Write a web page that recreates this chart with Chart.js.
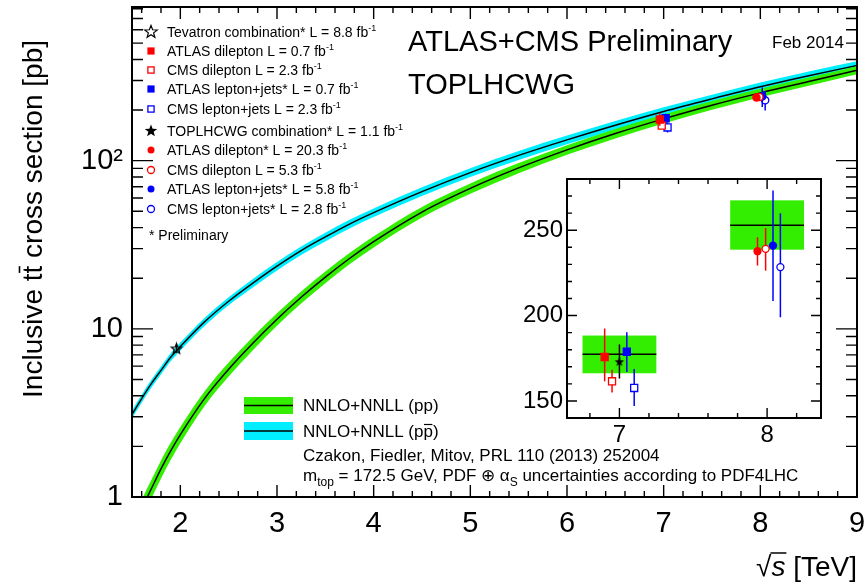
<!DOCTYPE html>
<html><head><meta charset="utf-8">
<script src="https://cdn.jsdelivr.net/npm/chart.js@4.4.1/dist/chart.umd.min.js"></script>
<style>
html,body{margin:0;padding:0;background:#fff;}
#wrap{position:relative;width:865px;height:585px;}
canvas{position:absolute;left:0;top:0;}
</style></head><body>
<div id="wrap"><canvas id="main" width="865" height="585"></canvas><canvas id="inset" width="865" height="585"></canvas></div>
<script>
// ---------------- DATA ----------------
const energies = [1.5,1.6,1.7,1.8,1.9,2.0,2.25,2.5,2.75,3.0,3.25,3.5,3.75,4.0,4.5,5.0,5.5,6.0,6.5,7.0,7.5,8.0,8.5,9.0];
const ppCentral = [0.62,0.85,1.12,1.47,1.88,2.35,3.85,5.75,8.2,11.4,15.4,20.3,26.2,33.0,49.5,68.4,90.5,116.0,145.1,177.3,213.6,252.9,295.5,345];
const ppLow     = [0.54,0.74,0.98,1.29,1.66,2.09,3.47,5.20,7.46,10.43,14.14,18.68,24.18,30.5,45.9,63.6,84.3,108.3,135.7,166.2,200.8,238.6,279,326];
const ppHigh    = [0.70,0.96,1.26,1.65,2.10,2.61,4.24,6.30,8.94,12.37,16.66,21.92,28.22,35.5,53.1,73.2,96.7,123.7,154.5,188.3,226.4,267.5,312,364];
const ppbarCentral = [3.10,3.85,4.72,5.66,6.78,7.85,11.0,14.6,18.7,23.6,29.2,35.2,42.0,49.1,65.5,85.0,107.5,133,162.4,196,233,275,320,368];
const ppbarLow     = [2.93,3.64,4.46,5.35,6.41,7.42,10.4,13.8,17.6,22.2,27.5,33.1,39.5,46.2,61.6,79.9,101.0,125,152.7,184.2,219,258.5,301,346];
const ppbarHigh    = [3.27,4.06,4.98,5.97,7.15,8.28,11.6,15.4,19.8,25.0,30.9,37.3,44.5,52.0,69.4,90.1,114.0,141,172.1,207.8,247,291.5,339,390];

const measLabels = ['Tevatron combination*','ATLAS dilepton','CMS dilepton','ATLAS lepton+jets*','CMS lepton+jets','TOPLHCWG combination*','ATLAS dilepton*','CMS dilepton','ATLAS lepton+jets*','CMS lepton+jets*'];
const measLumi   = ['8.8','0.7','2.3','0.7','2.3','1.1','20.3','5.3','5.8','2.8'];
const measSqrtS  = [1.96,7,7,7,7,7,8,8,8,8];
const measXsec   = [7.60,175.7,161.5,178.8,157.6,172.8,237.7,239.1,241.0,228.4];
const measLow    = [7.19,161.5,155.0,167.0,147.1,163.1,229.3,226.3,208.5,199.0];
const measHigh   = [8.01,192.4,168.3,190.3,168.7,183.1,245.9,251.3,273.2,259.9];

const theorySqrtS = [7,8];
const theoryXsec  = [177.3,252.9];
const theoryLow   = [166.2,238.6];
const theoryHigh  = [188.3,267.5];

const xTickValues = [2,3,4,5,6,7,8,9];
const yTickValues = [1,10,100];
const yTickLabels = ['1','10','10\u00B2'];
const insetXTickValues = [7,8];
const insetYTickValues = [150,200,250];

// ---------------- STYLE ----------------
const RED = '#ff0000', BLUE = '#0000ff', BLACK = '#000000';
const GREEN = '#33ee00', CYAN = '#00eeff';
const FONT = "'Liberation Sans', Arial, Helvetica, sans-serif";
const markerStyle = [
  {shape:'star', fill:false, color:BLACK},
  {shape:'rect', fill:true, color:RED},
  {shape:'rect', fill:false, color:RED},
  {shape:'rect', fill:true, color:BLUE},
  {shape:'rect', fill:false, color:BLUE},
  {shape:'star', fill:true, color:BLACK},
  {shape:'circle', fill:true, color:RED},
  {shape:'circle', fill:false, color:RED},
  {shape:'circle', fill:true, color:BLUE},
  {shape:'circle', fill:false, color:BLUE}
];
const mainDx  = [0,-0.04,-0.02,0.02,0.04,0,-0.04,-0.01,0.02,0.05];
const insetDx = [0,-0.10,-0.05,0.05,0.10,0,-0.065,-0.01,0.04,0.09];
const legendRowY = [32,51,70,89,109,131,150,170,189,209];

function setFont(ctx,size,italic){ ctx.font=(italic?'italic ':'')+size+'px '+FONT; }
function starPath(g,cx,cy,r){
  const ri=r*0.42; g.beginPath();
  for(let k=0;k<10;k++){const rr=k%2?ri:r; const a=-Math.PI/2+k*Math.PI/5; const px=cx+rr*Math.cos(a), py=cy+rr*Math.sin(a); if(k)g.lineTo(px,py); else g.moveTo(px,py);}
  g.closePath();
}
function starCanvas(r,filled,color){
  const c=document.createElement('canvas'); const s=Math.ceil(2*r+4); c.width=s;c.height=s;
  const g=c.getContext('2d'); starPath(g,s/2,s/2,r);
  if(filled){g.fillStyle=color;g.fill();} else {g.strokeStyle=color;g.lineWidth=1.2;g.stroke();}
  return c;
}
function drawMarker(ctx,st,x,y,size){
  ctx.save();
  if(st.shape==='star'){ starPath(ctx,x,y,size*1.2); if(st.fill){ctx.fillStyle=st.color;ctx.fill();} else {ctx.strokeStyle=st.color;ctx.lineWidth=1.2;ctx.stroke();} }
  else if(st.shape==='rect'){ const h=size*0.72; if(st.fill){ctx.fillStyle=st.color;ctx.fillRect(x-h,y-h,2*h,2*h);} else {ctx.strokeStyle=st.color;ctx.lineWidth=1.3;ctx.strokeRect(x-h+0.5,y-h+0.5,2*h-1,2*h-1);} }
  else { ctx.beginPath(); ctx.arc(x,y,size*0.7,0,2*Math.PI); if(st.fill){ctx.fillStyle=st.color;ctx.fill();} else {ctx.strokeStyle=st.color;ctx.lineWidth=1.3;ctx.stroke();} }
  ctx.restore();
}
function pointDataset(i,dx,starR,rectR,circR){
  const st=markerStyle[i];
  const ds={label:measLabels[i], data:[{x:measSqrtS[i]+dx[i], y:measXsec[i]}], showLine:false, order:0,
    errLo:[measLow[i]], errHi:[measHigh[i]], errColor:st.color,
    borderColor:st.color, backgroundColor: st.fill?st.color:'#ffffff', pointBorderWidth:1.3};
  if(st.shape==='star'){ ds.pointStyle=starCanvas(starR,st.fill,st.color); ds.pointRadius=starR; }
  else if(st.shape==='rect'){ ds.pointStyle='rect'; ds.pointRadius=rectR; }
  else { ds.pointStyle='circle'; ds.pointRadius=circR; }
  return ds;
}
const errorBarPlugin = {
  id:'errbars',
  beforeDatasetDraw(chart,args){
    const ds=chart.data.datasets[args.index]; if(!ds.errLo) return;
    const ctx=chart.ctx, y=chart.scales.y;
    ctx.save(); ctx.strokeStyle=ds.errColor; ctx.lineWidth=1.5; ctx.beginPath();
    args.meta.data.forEach((el,j)=>{ ctx.moveTo(el.x,y.getPixelForValue(ds.errLo[j])); ctx.lineTo(el.x,y.getPixelForValue(ds.errHi[j])); });
    ctx.stroke(); ctx.restore();
  }
};
function rich(ctx,x,y,parts,base){
  let cx=x;
  for(const p of parts){ setFont(ctx,p.size||base,p.italic); ctx.fillText(p.t,cx,y+(p.dy||0)); cx+=ctx.measureText(p.t).width; }
  return cx;
}

// ---------------- MAIN CHART ----------------
const pts=(ys)=>energies.map((e,i)=>({x:e,y:ys[i]}));
const mainDatasets=[
  {label:'ppbar hi',data:pts(ppbarHigh),borderWidth:0,pointRadius:0,fill:'+1',backgroundColor:CYAN,order:6,cubicInterpolationMode:'monotone'},
  {label:'ppbar lo',data:pts(ppbarLow),borderWidth:0,pointRadius:0,fill:false,order:6,cubicInterpolationMode:'monotone'},
  {label:'pp hi',data:pts(ppHigh),borderWidth:0,pointRadius:0,fill:'+1',backgroundColor:GREEN,order:4,cubicInterpolationMode:'monotone'},
  {label:'pp lo',data:pts(ppLow),borderWidth:0,pointRadius:0,fill:false,order:4,cubicInterpolationMode:'monotone'},
  {label:'ppbar',data:pts(ppbarCentral),borderColor:BLACK,borderWidth:1.4,pointRadius:0,fill:false,order:5,cubicInterpolationMode:'monotone'},
  {label:'pp',data:pts(ppCentral),borderColor:BLACK,borderWidth:1.4,pointRadius:0,fill:false,order:3,cubicInterpolationMode:'monotone'}
];
for(let i=0;i<measLabels.length;i++) mainDatasets.push(pointDataset(i,mainDx,5.5,5,3.6));

const mainFramePlugin={
  id:'mainframe',
  afterDatasetsDraw(chart){
    const {ctx,chartArea:a,scales:{x,y}}=chart;
    ctx.save(); ctx.strokeStyle='#000'; ctx.lineWidth=1.4; ctx.beginPath();
    for(let k=1;k<=37;k++){ const v=1.5+0.2*k-0.1; if(v>9.001)break; const px=x.getPixelForValue(v);
      const major=Math.abs(v-Math.round(v))<1e-6; const L=major?12:6;
      ctx.moveTo(px,a.bottom); ctx.lineTo(px,a.bottom-L); ctx.moveTo(px,a.top); ctx.lineTo(px,a.top+L); }
    for(const d of [1,10,100]) for(let m=1;m<=9;m++){ const v=m*d; if(v>y.max)break; const py=y.getPixelForValue(v); const L=m===1?21:11;
      ctx.moveTo(a.left,py); ctx.lineTo(a.left+L,py); ctx.moveTo(a.right,py); ctx.lineTo(a.right-L,py); }
    ctx.stroke();
    ctx.lineWidth=2; ctx.strokeRect(a.left,a.top,a.right-a.left,a.bottom-a.top);
    ctx.restore();
  },
  afterDraw(chart){
    const ctx=chart.ctx; ctx.save(); ctx.fillStyle='#000'; ctx.textBaseline='alphabetic'; ctx.textAlign='left';
    // y title
    ctx.save(); ctx.translate(42,40); ctx.rotate(-Math.PI/2); setFont(ctx,28);
    const t1='Inclusive t',t2='t',t3=' cross section [pb]';
    const w1=ctx.measureText(t1).width,w2=ctx.measureText(t2).width,w3=ctx.measureText(t3).width;
    const sx=-(w1+w2+w3);
    ctx.fillText(t1,sx,0); ctx.fillText(t2,sx+w1,0); ctx.fillText(t3,sx+w1+w2,0);
    ctx.lineWidth=1.6; ctx.beginPath(); ctx.moveTo(sx+w1+0.5,-22.5); ctx.lineTo(sx+w1+w2-0.5,-22.5); ctx.stroke();
    ctx.restore();
    // x title
    setFont(ctx,28); const wT=ctx.measureText('[TeV]').width, wSp=ctx.measureText(' ').width;
    ctx.fillText('[TeV]',857-wT,576);
    setFont(ctx,28,true); const wS=ctx.measureText('s').width; const xs=857-wT-wSp-wS; ctx.fillText('s',xs,576);
    setFont(ctx,28); const wR=ctx.measureText('\u221A').width; ctx.fillText('\u221A',xs-wR,576);
    ctx.lineWidth=1.5; ctx.beginPath(); ctx.moveTo(xs-1,576-23); ctx.lineTo(xs+wS+1,576-23); ctx.stroke();
    // headline texts
    setFont(ctx,29); ctx.fillText('ATLAS+CMS Preliminary',408,51); ctx.fillText('TOPLHCWG',408,94);
    setFont(ctx,17); ctx.fillText('Feb 2014',772,48);
    // legend top-left
    for(let i=0;i<measLabels.length;i++){
      const yc=legendRowY[i];
      drawMarker(ctx,markerStyle[i],151,yc,markerStyle[i].shape==='star'?5.5:5);
      ctx.fillStyle='#000';
      rich(ctx,167,yc+5,[{t:measLabels[i]+' L = '+measLumi[i]+' fb'},{t:'-1',size:9,dy:-6}],14);
    }
    setFont(ctx,14); ctx.fillText('* Preliminary',149,240);
    // bottom legend
    ctx.fillStyle=GREEN; ctx.fillRect(244,397,49,17);
    ctx.fillStyle=CYAN; ctx.fillRect(244,422,49,18);
    ctx.strokeStyle='#000'; ctx.lineWidth=1.4; ctx.beginPath(); ctx.moveTo(244,405.5); ctx.lineTo(293,405.5); ctx.moveTo(244,431); ctx.lineTo(293,431); ctx.stroke();
    ctx.fillStyle='#000'; setFont(ctx,17);
    ctx.fillText('NNLO+NNLL (pp)',303,411);
    const a1='NNLO+NNLL (p'; const wa=ctx.measureText(a1).width, wp=ctx.measureText('p').width;
    ctx.fillText(a1,303,437); ctx.fillText('p',303+wa,437); ctx.fillText(')',303+wa+wp,437);
    ctx.lineWidth=1.2; ctx.beginPath(); ctx.moveTo(303+wa+0.5,424.5); ctx.lineTo(303+wa+wp-0.5,424.5); ctx.stroke();
    ctx.fillText('Czakon, Fiedler, Mitov, PRL 110 (2013) 252004',303,461);
    rich(ctx,303,481,[{t:'m'},{t:'top',size:12,dy:5},{t:' = 172.5 GeV, PDF '},{t:'\u2295'},{t:' \u03B1'},{t:'S',size:12,dy:5},{t:' uncertainties according to PDF4LHC'}],17);
    ctx.restore();
  }
};

new Chart(document.getElementById('main'),{
  type:'line',
  data:{datasets:mainDatasets},
  options:{
    responsive:false, animation:false, devicePixelRatio:1,
    layout:{padding:{top:7,right:8,left:0,bottom:0}},
    plugins:{legend:{display:false},tooltip:{enabled:false},filler:{propagate:false}},
    scales:{
      x:{type:'linear',min:1.5,max:9,grid:{display:false,drawTicks:false},border:{display:false},
        afterBuildTicks:s=>{s.ticks=xTickValues.map(v=>({value:v}));},
        afterFit:s=>{s.height=88;s.paddingLeft=0;s.paddingRight=0;},
        ticks:{font:{family:FONT,size:29},color:'#000',padding:10,maxRotation:0,autoSkip:false,callback:v=>String(v)}},
      y:{type:'logarithmic',min:1,max:820,grid:{display:false,drawTicks:false},border:{display:false},
        afterBuildTicks:s=>{s.ticks=yTickValues.map(v=>({value:v}));},
        afterFit:s=>{s.width=132;s.paddingTop=0;s.paddingBottom=0;},
        ticks:{font:{family:FONT,size:29},color:'#000',padding:9,autoSkip:false,callback:(v,i)=>yTickLabels[i]}}
    }
  },
  plugins:[errorBarPlugin,mainFramePlugin]
});

// ---------------- INSET CHART ----------------
const insetDatasets=[];
for(let i=1;i<measLabels.length;i++) insetDatasets.push(pointDataset(i,insetDx,5,5,3.5));
const insetPlugin={
  id:'insetframe',
  beforeDraw(chart){ const {ctx,chartArea:a}=chart; ctx.save(); ctx.fillStyle='#fff'; ctx.fillRect(a.left,a.top,a.right-a.left,a.bottom-a.top); ctx.restore(); },
  beforeDatasetsDraw(chart){
    const {ctx,scales:{x,y}}=chart; ctx.save();
    theorySqrtS.forEach((e,i)=>{
      const x0=x.getPixelForValue(e-0.25), x1=x.getPixelForValue(e+0.25);
      const yh=y.getPixelForValue(theoryHigh[i]), yl=y.getPixelForValue(theoryLow[i]), yc=y.getPixelForValue(theoryXsec[i]);
      ctx.fillStyle=GREEN; ctx.fillRect(x0,yh,x1-x0,yl-yh);
      ctx.strokeStyle='#000'; ctx.lineWidth=1.4; ctx.beginPath(); ctx.moveTo(x0,yc); ctx.lineTo(x1,yc); ctx.stroke();
    });
    ctx.restore();
  },
  afterDatasetsDraw(chart){
    const {ctx,chartArea:a,scales:{x,y}}=chart;
    ctx.save(); ctx.strokeStyle='#000'; ctx.lineWidth=1.4; ctx.beginPath();
    for(let k=0;k<12;k++){ const v=6.6+0.2*k; if(v<x.min||v>x.max)continue; const px=x.getPixelForValue(v);
      const major=Math.abs(v-Math.round(v))<1e-6; const L=major?10:5;
      ctx.moveTo(px,a.bottom); ctx.lineTo(px,a.bottom-L); ctx.moveTo(px,a.top); ctx.lineTo(px,a.top+L); }
    for(let v=140;v<=280;v+=10){ if(v<y.min||v>y.max)continue; const py=y.getPixelForValue(v); const L=(v%50===0)?10:5;
      ctx.moveTo(a.left,py); ctx.lineTo(a.left+L,py); ctx.moveTo(a.right,py); ctx.lineTo(a.right-L,py); }
    ctx.stroke(); ctx.lineWidth=2; ctx.strokeRect(a.left,a.top,a.right-a.left,a.bottom-a.top); ctx.restore();
  }
};
new Chart(document.getElementById('inset'),{
  type:'line',
  data:{datasets:insetDatasets},
  options:{
    responsive:false, animation:false, devicePixelRatio:1, events:[],
    layout:{padding:{top:179,right:44,left:507,bottom:127}},
    plugins:{legend:{display:false},tooltip:{enabled:false}},
    scales:{
      x:{type:'linear',min:6.645,max:8.365,grid:{display:false,drawTicks:false},border:{display:false},
        afterBuildTicks:s=>{s.ticks=insetXTickValues.map(v=>({value:v}));},
        afterFit:s=>{s.height=40;s.paddingLeft=0;s.paddingRight=0;},
        ticks:{font:{family:FONT,size:24},color:'#000',padding:3,maxRotation:0,autoSkip:false,callback:v=>String(v)}},
      y:{type:'linear',min:140,max:280,grid:{display:false,drawTicks:false},border:{display:false},
        afterBuildTicks:s=>{s.ticks=insetYTickValues.map(v=>({value:v}));},
        afterFit:s=>{s.width=60;s.paddingTop=0;s.paddingBottom=0;},
        ticks:{font:{family:FONT,size:24},color:'#000',padding:4,autoSkip:false,callback:v=>String(v)}}
    }
  },
  plugins:[errorBarPlugin,insetPlugin]
});
</script>
</body></html>
